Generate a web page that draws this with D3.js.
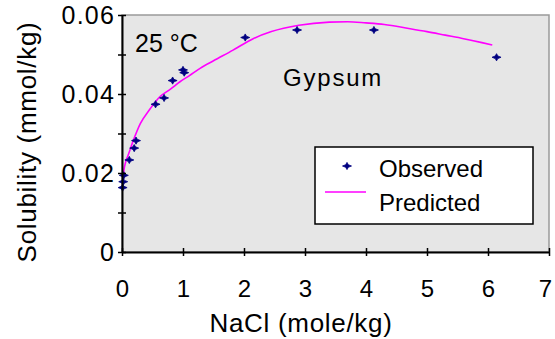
<!DOCTYPE html>
<html>
<head>
<meta charset="utf-8">
<script src="https://cdn.jsdelivr.net/npm/d3@7"></script>
<style>
  body { margin: 0; background: #fff; }
  text { font-family: "Liberation Sans", Arial, sans-serif; fill: #000; }
</style>
</head>
<body>
<div id="main"></div>
<script>
// observed points (NaCl mole/kg, solubility)
var obsX = [0.01, 0.02, 0.03, 0.12, 0.2, 0.23, 0.55, 0.69, 0.83, 1.0, 1.02, 2.02, 2.87, 4.13, 6.14];
var obsY = [0.0163, 0.0178, 0.0194, 0.0233, 0.0263, 0.0282, 0.0374, 0.039, 0.0434, 0.0461, 0.0454, 0.0543, 0.0562, 0.0562, 0.0493];
// predicted curve
var predX = [0.01, 0.03, 0.06, 0.1, 0.18, 0.3, 0.45, 0.62, 0.8, 0.95, 1.1, 1.28, 1.5, 1.82, 2.15, 2.45, 2.9, 3.4, 3.7, 4.0, 4.3, 4.7, 5.0, 5.3, 5.6, 5.9, 6.07];
var predY = [0.0170, 0.0205, 0.0228, 0.0245, 0.0280, 0.0325, 0.0360, 0.0393, 0.0413, 0.0431, 0.0446, 0.0465, 0.0484, 0.0511, 0.0540, 0.0558, 0.0574, 0.0582, 0.0583, 0.0580, 0.0576, 0.0566, 0.0558, 0.0549, 0.0540, 0.0530, 0.0524];
var xTicks = [0, 1, 2, 3, 4, 5, 6, 7];
var yTicks = [0, 0.02, 0.04, 0.06];
var yMinor = [0.01, 0.03, 0.05];

var ctx = {w: 555, h: 339, left: 122, right: 549, top: 15, bottom: 252};

var svg = d3.select("#main").append("svg")
  .attr("width", ctx.w).attr("height", ctx.h);

var x = d3.scaleLinear().domain([0, 7]).range([ctx.left, ctx.right]);
var y = d3.scaleLinear().domain([0, 0.06]).range([ctx.bottom, ctx.top]);

// plot background
svg.append("rect")
  .attr("x", ctx.left).attr("y", ctx.top)
  .attr("width", ctx.right - ctx.left).attr("height", ctx.bottom - ctx.top)
  .attr("fill", "#e6e6e6").attr("stroke", "#9a9a9a").attr("stroke-width", 1.5);

// predicted curve
var line = d3.line().x(function(d){ return x(d[0]); }).y(function(d){ return y(d[1]); })
  .curve(d3.curveMonotoneX);
svg.append("path")
  .datum(d3.zip(predX, predY))
  .attr("d", line)
  .attr("fill", "none").attr("stroke", "#ff00ff").attr("stroke-width", 1.6);

// small four-point star marker like the excel one
var star = {
  draw: function(c, size){
    var a = 4.5, b = 3.6, k = 1.3;
    c.moveTo(-a, 0); c.lineTo(-k, -k); c.lineTo(0, -b); c.lineTo(k, -k);
    c.lineTo(a, 0); c.lineTo(k, k); c.lineTo(0, b); c.lineTo(-k, k); c.closePath();
  }
};
var sym = d3.symbol().type(star);
svg.append("g").selectAll("path")
  .data(d3.zip(obsX, obsY))
  .enter().append("path")
  .attr("d", sym)
  .attr("transform", function(d){ return "translate(" + x(d[0]) + "," + y(d[1]) + ")"; })
  .attr("fill", "#000080").attr("stroke", "#000080").attr("stroke-width", 0.8);

// axes
var yAxis = svg.append("g").attr("transform", "translate(" + ctx.left + ",0)")
  .call(d3.axisLeft(y).tickValues(yTicks.concat(yMinor)).tickSize(4).tickSizeOuter(0)
        .tickFormat(function(d){ return yTicks.indexOf(d) >= 0 ? (d === 0 ? "0" : d3.format(".2f")(d)) : ""; }));
var xAxis = svg.append("g").attr("transform", "translate(0," + ctx.bottom + ")")
  .call(d3.axisBottom(x).tickValues(xTicks).tickSize(4).tickSizeOuter(0).tickFormat(d3.format("d")));

[yAxis, xAxis].forEach(function(a){
  a.select(".domain").attr("stroke", "#000").attr("stroke-width", 2);
  a.selectAll(".tick line").attr("stroke", "#000").attr("stroke-width", 1.5);
  a.selectAll("text").style("font-size", "25px").attr("fill", "#000");
});
yAxis.selectAll("text").attr("letter-spacing", "1.2px");
// ticks cross the axis
yAxis.selectAll(".tick line").attr("x1", 4).attr("x2", -4);
yAxis.selectAll(".tick text").attr("x", -7);
xAxis.selectAll(".tick line").attr("y1", -4).attr("y2", 4);
xAxis.selectAll(".tick text").attr("y", 28).style("font-size", "24px")
  .attr("dx", function(d){ return d === 7 ? -4 : 0; });

// axis titles
svg.append("text").attr("x", 301).attr("y", 332)
  .attr("text-anchor", "middle").style("font-size", "26px").attr("letter-spacing", "0.7px")
  .text("NaCl (mole/kg)");
svg.append("text")
  .attr("transform", "translate(36,142) rotate(-90)")
  .attr("text-anchor", "middle").style("font-size", "26px").attr("letter-spacing", "0.7px")
  .text("Solubility (mmol/kg)");

// annotations
svg.append("text").attr("x", 135).attr("y", 52).style("font-size", "25px").text("25 °C");
svg.append("text").attr("x", 283).attr("y", 86).style("font-size", "24px")
  .attr("letter-spacing", "1.8px").text("Gypsum");

// legend
var lg = svg.append("g");
lg.append("rect").attr("x", 315).attr("y", 147).attr("width", 218).attr("height", 77)
  .attr("fill", "#fff").attr("stroke", "#000").attr("stroke-width", 1.5);
lg.append("path").attr("d", sym).attr("transform", "translate(347,166)")
  .attr("fill", "#000080").attr("stroke", "#000080").attr("stroke-width", 0.8);
lg.append("text").attr("x", 379).attr("y", 177).style("font-size", "24px").text("Observed");
lg.append("line").attr("x1", 325).attr("x2", 366).attr("y1", 192).attr("y2", 192)
  .attr("stroke", "#ff00ff").attr("stroke-width", 1.6);
lg.append("text").attr("x", 379).attr("y", 211).style("font-size", "24px").text("Predicted");
</script>
</body>
</html>
